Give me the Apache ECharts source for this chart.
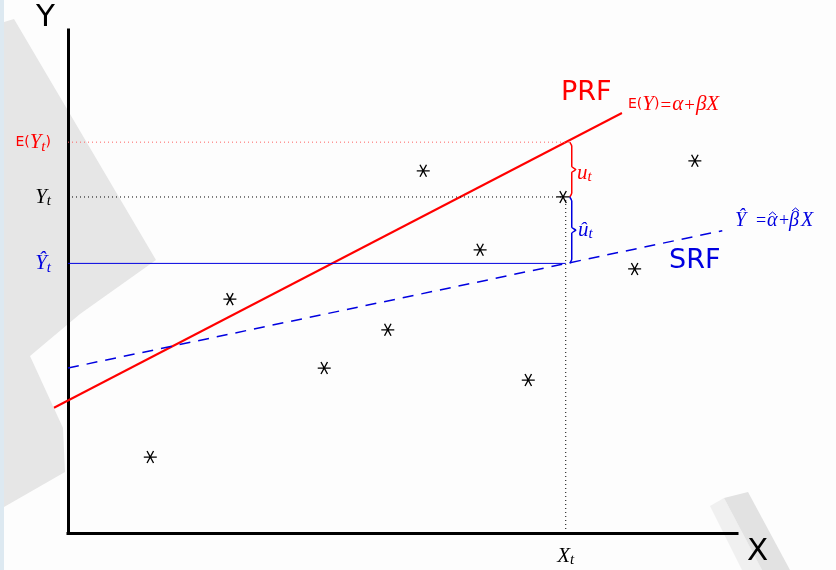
<!DOCTYPE html>
<html>
<head>
<meta charset="utf-8">
<title>PRF / SRF</title>
<script src="https://cdn.jsdelivr.net/npm/echarts@6/dist/echarts.min.js"></script>
<style>
  html, body { margin: 0; padding: 0; background: #fdfdfd; }
  #main { width: 836px; height: 570px; }
</style>
</head>
<body>
<div id="main"></div>
<script>
// observed points (asterisks)
const pointX = [12.3, 24.2, 38.3, 47.8, 53.1, 61.6, 68.8, 74.0, 84.7, 93.7];
const pointY = [15.1, 46.5, 32.8, 40.4, 72.0, 56.3, 30.4, 66.8, 52.5, 74.0];

// population regression line E(Y) = a + bX
const prfX = [-2.1, 82.8];
const prfY = [24.9, 83.5];
// sample regression line
const srfX = [0, 97.8];
const srfY = [32.8, 60.1];

// the marked observation
const X_T = 74.4;
const EY_T = 77.7;
const Y_T = 66.8;
const YHAT_T = 53.6;
const BRACE_X = 75.3;

const chart = echarts.init(document.getElementById('main'));

const RED = '#ff0000';
const BLUE = '#0000e0';
const serif = 'Liberation Serif';
const sans = 'DejaVu Sans';

function zip(xs, ys) {
  return xs.map((x, i) => [x, ys[i]]);
}

// curly brace between two y values
function brace(x, top, bottom) {
  const mid = (top + bottom) / 2;
  return [
    [x - 0.3, top], [x, top - 0.8], [x, mid + 0.6], [x + 0.6, mid],
    [x, mid - 0.6], [x, bottom + 0.8], [x - 0.3, bottom]
  ];
}

// rich styles; key is 'color' for labels and 'fill' for graphic texts
function mathRich(color, key, size) {
  key = key || 'color';
  size = size || 21;
  const st = o => Object.assign(o, { [key]: color });
  return {
    s: st({ fontFamily: sans, fontSize: Math.round(size * 0.68) }),
    i: st({ fontFamily: serif, fontStyle: 'italic', fontSize: size }),
    sub: st({ fontFamily: serif, fontStyle: 'italic', fontSize: 15, padding: [9, 0, 0, 0] }),
    o: st({ fontFamily: serif, fontSize: size - 2, padding: [4, 1, 0, 1] })
  };
}

const yLabels = {};
yLabels[EY_T] = '{rs|E(}{ri|Y}{rsub|t}{rs|)}';
yLabels[Y_T] = '{ki|Y}{ksub|t}';
yLabels[YHAT_T] = '{bi|Ŷ}{bsub|t}';

const yRich = {};
[['r', RED], ['k', '#000'], ['b', BLUE]].forEach(([p, c]) => {
  const r = mathRich(c);
  yRich[p + 's'] = r.s;
  yRich[p + 'i'] = r.i;
  yRich[p + 'sub'] = r.sub;
});

const hiddenAxis = {
  type: 'value', min: 0, max: 100, show: false,
  axisLine: { show: false }, splitLine: { show: false }
};

// pieces of the fitted equation  Y^ = a^ + b^ X
const eqFont = 'italic 20px "Liberation Serif"';
const eqOpFont = '18px "Liberation Serif"';
function eqText(x, text, font) {
  return { type: 'text', x: x, y: 0, style: { text: text, font: font, fill: BLUE, verticalAlign: 'middle' } };
}
function hat(x, y) {
  return { type: 'polyline', shape: { points: [[x, y + 3], [x + 3.5, y], [x + 7, y + 3]] },
    style: { stroke: BLUE, lineWidth: 1, fill: null } };
}

const option = {
  animation: false,
  backgroundColor: '#fdfdfd',
  grid: [
    { left: 68, right: 99, top: 30, bottom: 37 },
    // same scale, but reaching a little left of the Y axis (for PRF)
    { left: 54, right: 99, top: 30, bottom: 37 }
  ],
  xAxis: [{
    type: 'value', min: 0, max: 100, gridIndex: 0,
    name: 'X', nameLocation: 'end', nameGap: 10,
    nameTextStyle: { fontFamily: sans, fontSize: 31, color: '#000', verticalAlign: 'top', padding: [3, 0, 0, 0] },
    axisLine: { show: true, onZero: false, lineStyle: { color: '#000', width: 3, cap: 'square' } },
    axisTick: { show: false },
    splitLine: { show: false },
    axisLabel: {
      customValues: [X_T], margin: 11,
      formatter: () => '{i|X}{sub|t}',
      rich: mathRich('#000')
    }
  }, Object.assign({}, hiddenAxis, { gridIndex: 1, min: prfX[0] })],
  yAxis: [{
    type: 'value', min: 0, max: 100, gridIndex: 0,
    name: 'Y', nameLocation: 'end', nameGap: -3,
    nameTextStyle: { fontFamily: sans, fontSize: 31, color: '#000', align: 'right', verticalAlign: 'bottom', padding: [0, 13, 0, 0] },
    axisLine: { show: true, onZero: false, lineStyle: { color: '#000', width: 3, cap: 'square' } },
    axisTick: { show: false },
    splitLine: { show: false },
    axisLabel: {
      customValues: [YHAT_T, Y_T, EY_T], margin: 17,
      formatter: v => yLabels[v] || '',
      rich: yRich
    }
  }, Object.assign({}, hiddenAxis, { gridIndex: 1 })],
  graphic: [
    { type: 'rect', z: -100, silent: true, shape: { x: 0, y: 0, width: 4, height: 570 }, style: { fill: '#dde9f1' } },
    { type: 'polygon', z: -100, silent: true,
      shape: { points: [[4, 22], [14, 19], [156, 260], [80, 314], [30, 356], [63, 428], [65, 472], [4, 507]] },
      style: { fill: '#e6e6e6' } },
    { type: 'polygon', z: -100, silent: true,
      shape: { points: [[710, 506], [724, 498], [762, 570], [742, 570]] },
      style: { fill: '#f0f0f0' } },
    { type: 'polygon', z: -100, silent: true,
      shape: { points: [[724, 498], [748, 492], [790, 570], [762, 570]] },
      style: { fill: '#e2e2e2' } },
    { type: 'text', x: 561, y: 93, style: { text: 'PRF', fill: RED, font: '27px "DejaVu Sans"', verticalAlign: 'middle' } },
    { type: 'text', x: 669, y: 261, style: { text: 'SRF', fill: BLUE, font: '27px "DejaVu Sans"', verticalAlign: 'middle' } },
    { type: 'text', x: 628, y: 104, style: {
      text: '{s|E(}{i|Y}{s|)}{o|=}{i|α}{o|+}{i|β}{i|X}', verticalAlign: 'middle', rich: mathRich(RED, 'fill', 21) } },
    { type: 'group', x: 735, y: 221, children: [
      eqText(0, 'Ŷ', eqFont),
      eqText(21, '=', eqOpFont),
      eqText(32, 'α', eqFont),
      hat(34, -9),
      eqText(44, '+', eqOpFont),
      eqText(54, 'β', eqFont),
      hat(57, -13),
      eqText(66, 'X', eqFont)
    ] },
    { type: 'text', x: 577, y: 173, style: {
      text: '{i|u}{sub|t}', verticalAlign: 'middle', rich: mathRich(RED, 'fill') } },
    { type: 'text', x: 578, y: 230, style: {
      text: '{i|û}{sub|t}', verticalAlign: 'middle', rich: mathRich(BLUE, 'fill') } }
  ],
  series: [
    { name: 'PRF', type: 'line', xAxisIndex: 1, yAxisIndex: 1, symbol: 'none', data: zip(prfX, prfY),
      lineStyle: { color: RED, width: 2 } },
    { name: 'SRF', type: 'line', clip: false, symbol: 'none', data: zip(srfX, srfY),
      lineStyle: { color: BLUE, width: 1.5, type: [11, 8] } },
    { type: 'line', symbol: 'none', data: [[0, EY_T], [BRACE_X, EY_T]],
      lineStyle: { color: '#ff6060', width: 1, type: [1, 3] } },
    { type: 'line', symbol: 'none', data: [[0, Y_T], [pointX[7], Y_T]],
      lineStyle: { color: '#000', width: 1, type: [1, 3] } },
    { type: 'line', symbol: 'none', data: [[0, YHAT_T], [X_T, YHAT_T]],
      lineStyle: { color: BLUE, width: 1 } },
    { type: 'line', symbol: 'none', data: [[X_T, 0], [X_T, Y_T]],
      lineStyle: { color: '#000', width: 1, type: [1, 3] } },
    { type: 'line', symbol: 'none', smooth: 0.2, data: brace(BRACE_X, EY_T, Y_T),
      lineStyle: { color: RED, width: 1.5 } },
    { type: 'line', symbol: 'none', smooth: 0.2, data: brace(BRACE_X, Y_T, YHAT_T),
      lineStyle: { color: BLUE, width: 1.5 } },
    { name: 'obs', type: 'scatter', z: 5, data: zip(pointX, pointY),
      symbol: 'path://M-6,0L6,0M-3,-5.2L3,5.2M-3,5.2L3,-5.2',
      symbolSize: [13, 12],
      itemStyle: { color: 'rgba(0,0,0,0)', borderColor: '#000', borderWidth: 1.3, opacity: 1 } }
  ]
};

chart.setOption(option);
</script>
</body>
</html>
